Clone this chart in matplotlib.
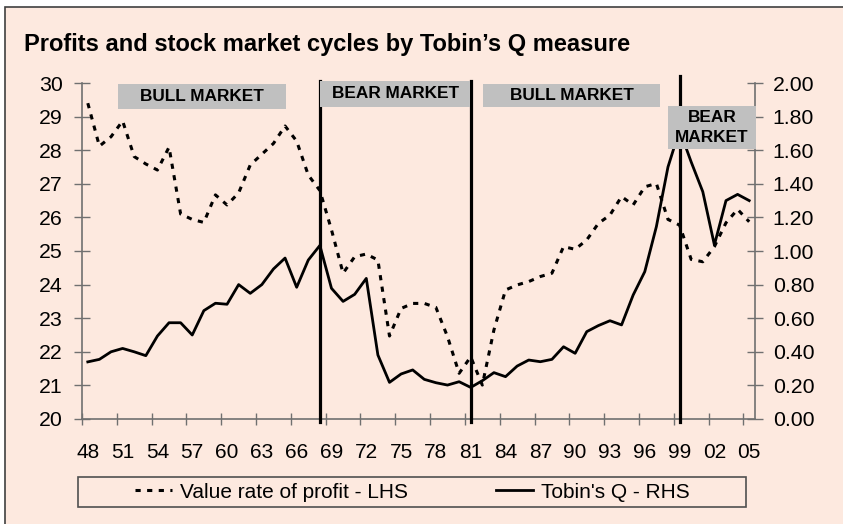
import matplotlib
matplotlib.use('Agg')
import matplotlib.pyplot as plt
from matplotlib.patches import Rectangle
from matplotlib.lines import Line2D

plt.rcParams['font.family'] = ['Liberation Sans', 'DejaVu Sans']

# ---------------- data ----------------
years = list(range(1948, 2006))
profit_rate = [29.40, 28.12, 28.40, 28.87, 27.81, 27.59, 27.41, 28.09, 26.10, 25.94,
               25.85, 26.67, 26.37, 26.73, 27.56, 27.88, 28.20, 28.72, 28.27, 27.26,
               26.80, 25.63, 24.34, 24.83, 24.91, 24.73, 22.47, 23.29, 23.44, 23.44,
               23.32, 22.45, 21.36, 21.85, 21.01, 22.65, 23.84, 23.99, 24.09, 24.24,
               24.34, 25.13, 25.05, 25.33, 25.82, 26.07, 26.62, 26.37, 26.91, 27.01,
               25.94, 25.77, 24.75, 24.68, 25.13, 25.84, 26.24, 25.87]
tobins_q = [0.340, 0.355, 0.400, 0.420, 0.400, 0.377, 0.494, 0.573, 0.573, 0.500,
            0.645, 0.689, 0.683, 0.800, 0.748, 0.800, 0.893, 0.958, 0.784, 0.946,
            1.033, 0.778, 0.700, 0.742, 0.837, 0.381, 0.218, 0.268, 0.292, 0.236,
            0.216, 0.202, 0.222, 0.188, 0.228, 0.276, 0.252, 0.315, 0.351, 0.341,
            0.355, 0.430, 0.391, 0.520, 0.556, 0.585, 0.560, 0.738, 0.877, 1.145,
            1.500, 1.720, 1.530, 1.353, 1.036, 1.300, 1.337, 1.300]
label_years = list(range(1948, 2006, 3))
x_labels = ['%02d' % (y % 100) for y in label_years]
left_ticks = list(range(20, 31))
right_ticks = [0.0, 0.2, 0.4, 0.6, 0.8, 1.0, 1.2, 1.4, 1.6, 1.8, 2.0]
cycle_years = [1968, 1981, 1999]
market_labels = ['BULL MARKET', 'BEAR MARKET', 'BULL MARKET', 'BEAR\nMARKET']
# box extents: (x0 year, x1 year, y0 axes-frac, y1 axes-frac)
market_boxes = [(1950.6, 1965.1, 0.9226, 0.997),
                (1968.0, 1980.95, 0.9286, 1.006),
                (1982.07, 1997.33, 0.9286, 0.997),
                (1998.02, 2005.55, 0.8036, 0.9315)]
series_names = ['Value rate of profit - LHS', "Tobin's Q - RHS"]

# ---------------- style ----------------
W, H = 843, 524
bg = '#FDE9DF'
gray = '#707070'
box_gray = '#C0C0C0'

fig = plt.figure(figsize=(W / 100, H / 100), dpi=100, facecolor='white')
frame = Rectangle((5 / W, -0.1), 1.2, 1 - 7 / H + 0.1, transform=fig.transFigure,
                  facecolor=bg, edgecolor='#404040', lw=1.2, zorder=-10)
fig.add_artist(frame)

ax = fig.add_axes([82 / W, 1 - 419 / H, (755 - 82) / W, (419 - 83) / H])
ax.set_facecolor('none')
ax2 = ax.twinx()
ax2.set_facecolor('none')

dash_line, = ax.plot(years, profit_rate, color='black', lw=2.2,
                     linestyle=(0, (1.7, 2.1)), zorder=3)
solid_line, = ax2.plot(years, tobins_q, color='black', lw=2.0, zorder=3)

ax.set_xlim(1947.5, 2005.5)
ax.set_ylim(20, 30)
ax2.set_ylim(0, 2.0)

# x ticks: marks between categories, labels at categories
ax.set_xticks([1947.5 + 3 * k for k in range(20)])
ax.set_xticklabels([''] * 20)
ax.set_xticks(label_years, minor=True)
ax.set_xticklabels(x_labels, minor=True)
ax.tick_params(axis='x', which='major', direction='inout', length=8.6, width=1,
               color=gray)
ax.tick_params(axis='x', which='minor', length=0, pad=17, labelsize=15)

ax.set_yticks(left_ticks)
ax.set_yticklabels([str(v) for v in left_ticks])
ax.tick_params(axis='y', direction='inout', length=11.5, width=1, color=gray,
               pad=8.2, labelsize=15.3)
ax2.set_yticks(right_ticks)
ax2.set_yticklabels(['%.2f' % v for v in right_ticks])
ax2.tick_params(axis='y', direction='inout', length=11.5, width=1, color=gray,
                pad=7.0, labelsize=15.3)

for a in (ax, ax2):
    a.spines['top'].set_visible(False)
    for s in a.spines.values():
        s.set_color(gray)
        s.set_linewidth(1.2)
ax.spines['right'].set_visible(False)
ax2.spines['left'].set_visible(False)
ax2.spines['bottom'].set_visible(False)

# cycle separators
trans = ax2.get_xaxis_transform()
for i, yr in enumerate(cycle_years):
    top = 1.021 if i == 2 else 1.006
    ax2.plot([yr, yr], [-0.009, top], transform=trans, color='black', lw=2.3,
             clip_on=False, zorder=4)

# market labels
for lab, (x0, x1, y0, y1) in zip(market_labels, market_boxes):
    ax2.add_patch(Rectangle((x0, y0), x1 - x0, y1 - y0, transform=trans,
                            facecolor=box_gray, edgecolor='none', clip_on=False,
                            zorder=5))
    ax2.text((x0 + x1) / 2, (y0 + y1) / 2, lab, transform=trans, ha='center',
             va='center', fontsize=12.4, fontweight='bold', zorder=6,
             linespacing=1.35)

# title
fig.text(24 / W, 1 - 51 / H, "Profits and stock market cycles by Tobin\u2019s Q measure",
         fontsize=17, fontweight='bold', ha='left', va='baseline')

# legend
h1 = Line2D([], [], color='black', lw=2.2, linestyle=(0, (1.7, 2.1)))
h2 = Line2D([], [], color='black', lw=2.0)
fig.legend([h1, h2], series_names, loc='center', bbox_to_anchor=(0.489, 0.061),
           ncol=2, frameon=False, fontsize=15, handlelength=1.78,
           handletextpad=0.38, columnspacing=4.2)
fig.add_artist(Rectangle((78 / W, 1 - 507 / H), 668 / W, 30 / H,
                         transform=fig.transFigure, facecolor='none',
                         edgecolor='#505050', lw=1.2))

fig.savefig('out.png', dpi=100, facecolor='white')
